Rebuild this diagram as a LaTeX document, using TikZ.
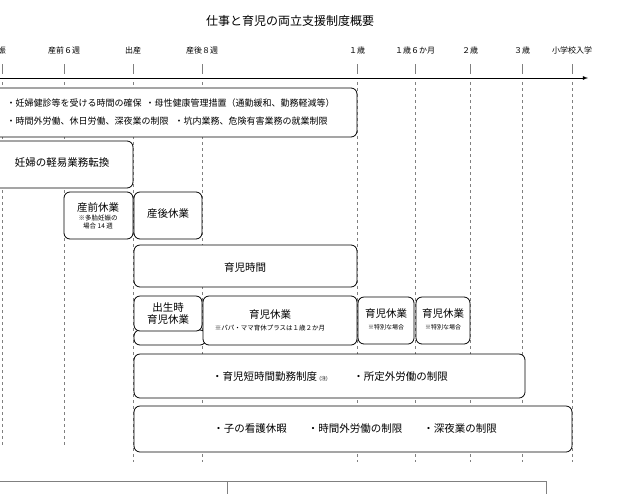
\documentclass[tikz,border=0pt]{standalone}
\usepackage{fontspec}
\setmainfont{Noto Sans CJK JP}
\begin{document}
\begin{tikzpicture}[x=1pt, y=-1pt, font=\fontsize{9}{11}\selectfont,
          box/.style={draw, thick, rounded corners=6pt},
          tick/.style={font=\fontsize{8}{10}\selectfont},
          big/.style={font=\fontsize{10.5}{12}\selectfont},
          guide/.style={dashed, gray, thin}]
\useasboundingbox (0,0) rectangle (636,493);
\node (title) at (290,21) {\fontsize{12}{14}\selectfont 仕事と育児の両立支援制度概要};
% time axis
\coordinate (start) at (-2,78);
\coordinate (end) at (588,78);
\draw[thick, -latex] (start) -- (end);
\foreach \x/\lab/\yb in {2/娠/445, 64/産前６週/445, 133/出産/462, 202/産後８週/462, 357/１歳/462, 415/１歳６か月/462, 470/２歳/462, 522/３歳/462, 572/小学校入学/462} {
  \node[tick] (t\x) at (\x,50) {\lab};
  \draw[gray] (\x,64) -- (\x,74);
  \draw[guide] (\x,82) -- (\x,\yb);
}
% boxes
\draw[box, fill=white] (-10,88) rectangle (357,137);
\node[anchor=west] (ninshin) at (3,103) {・妊婦健診等を受ける時間の確保\ \ ・母性健康管理措置（通勤緩和、勤務軽減等）};
\node[anchor=west] (jikangai) at (3,121) {・時間外労働、休日労働、深夜業の制限\ \ \ ・坑内業務、危険有害業務の就業制限};
\draw[box, fill=white] (-10,141) rectangle (133,188);
\node[big] (keii) at (62,163) {妊婦の軽易業務転換};
\draw[box, fill=white] (64,192) rectangle (133,239);
\node[align=center] (sanzen) at (98,216) {\fontsize{10.5}{12}\selectfont 産前休業\\[-2pt]{\fontsize{6.5}{7}\selectfont ※多胎妊娠の}\\[-3pt]{\fontsize{6.5}{7}\selectfont 場合 14 週}};
\draw[box, fill=white] (134,192) rectangle (202,239);
\node[big] (sango) at (168,214) {産後休業};
\draw[box, fill=white] (134,245) rectangle (357,287);
\node[big] (jikan) at (245,268) {育児時間};
\draw[box, fill=white] (134,330) rectangle (206,345);
\draw[box, fill=white] (203,296) rectangle (357,345);
\node[align=center] (ikukyu) at (270,320) {\fontsize{10.5}{12}\selectfont 育児休業\\[1pt]{\fontsize{6.5}{7}\selectfont ※パパ・ママ育休プラスは１歳２か月}};
\draw[box, fill=white] (134,296) rectangle (202,331);
\node[big, align=center] (shussei) at (168,314) {出生時\\育児休業};
\draw[box, fill=white] (358,297) rectangle (414,344);
\node[align=center] (tokubetsu1) at (386,319) {\fontsize{10.5}{12}\selectfont 育児休業\\[1pt]{\fontsize{6}{7}\selectfont ※特別な場合}};
\draw[box, fill=white] (416,297) rectangle (470,344);
\node[align=center] (tokubetsu2) at (443,319) {\fontsize{10.5}{12}\selectfont 育児休業\\[1pt]{\fontsize{6}{7}\selectfont ※特別な場合}};
\draw[box, fill=white] (134,354) rectangle (525,398);
\node[big] (tanjikan) at (330,377) {・育児短時間勤務制度 {\fontsize{5}{6}\selectfont (注)}\qquad\ \ ・所定外労働の制限};
\draw[box, fill=white] (134,406) rectangle (572,452);
\node[big] (kango) at (355,429) {・子の看護休暇\qquad ・時間外労働の制限\qquad ・深夜業の制限};
% table at the bottom
\draw[gray] (-2,481) -- (546,481) -- (546,496);
\draw[gray] (227,481) -- (227,496);
\end{tikzpicture}
\end{document}
